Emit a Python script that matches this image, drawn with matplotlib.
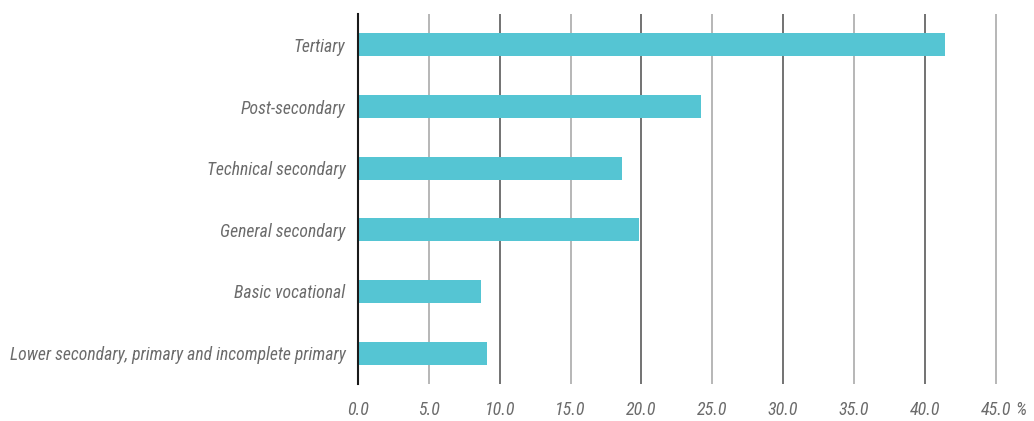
import matplotlib
matplotlib.use("Agg")
from matplotlib import pyplot as plt
from matplotlib import font_manager
import numpy as np

categories = ['Lower secondary, primary and incomplete primary',
              'Basic vocational',
              'General secondary',
              'Technical secondary',
              'Post-secondary',
              'Tertiary']
values = [9.1, 8.7, 19.8, 18.6, 24.2, 41.4]
xticks = [0, 5, 10, 15, 20, 25, 30, 35, 40, 45]

# pick a narrow family if one is installed
installed = set(f.name for f in font_manager.fontManager.ttflist)
family = 'DejaVu Sans'
for cand in ['Roboto Condensed', 'Liberation Sans Narrow', 'Open Sans Condensed', 'Roboto']:
    if cand in installed:
        family = cand
        break
plt.rcParams['font.family'] = [family, 'DejaVu Sans']
text_color = '#6b6b6b'

fig = plt.figure(figsize=(10.34, 4.21), dpi=100)
ax = fig.add_axes([358/1034, 1 - 384/421, (1017-358)/1034, 370/421])

y = np.arange(len(categories))
ax.barh(y, values, height=0.375, color='#55c5d3', zorder=3)

for t in xticks:
    if t == 0:
        continue
    col = '#5a5a5a' if t % 10 == 0 else '#aaaaaa'
    ax.axvline(t, color=col, lw=1.2, zorder=1)

ax.set_xlim(0, 46.5)
ax.set_ylim(-0.5, 5.5)
ax.set_yticks(y)
ax.set_yticklabels(categories, style='italic', color=text_color, fontsize=12.7)
ax.set_xticks(xticks)
ax.set_xticklabels(['%.1f' % t for t in xticks], style='italic', color=text_color, fontsize=13)
ax.annotate('%', xy=(45, 0), xycoords=('data', 'axes fraction'), xytext=(14, -19),
            textcoords='offset points', ha='left', va='center',
            style='italic', color=text_color, fontsize=13)
ax.tick_params(axis='y', length=0, pad=9)
ax.tick_params(axis='x', length=0, pad=12)

for s in ['top', 'right', 'bottom']:
    ax.spines[s].set_visible(False)
ax.spines['left'].set_color('#1a1a1a')
ax.spines['left'].set_linewidth(1.5)
ax.spines['left'].set_zorder(4)

fig.savefig('out.png', dpi=100)
